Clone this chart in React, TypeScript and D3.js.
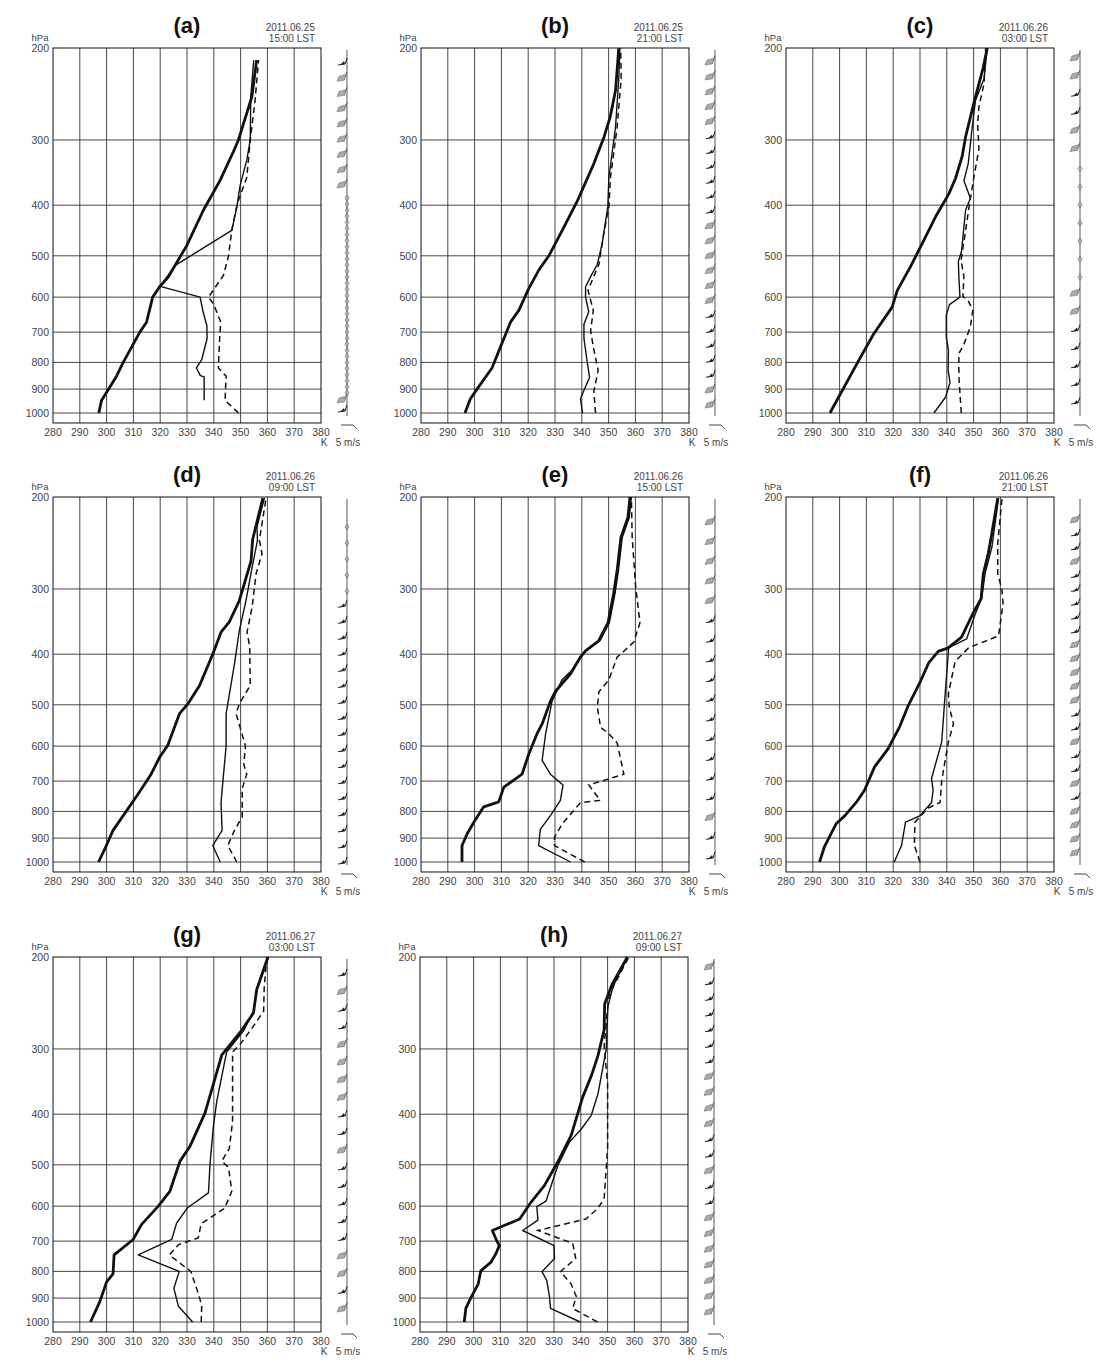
import React from "react";
import * as d3 from "d3";

type Pt = [number, number];

// ---- data: [K, hPa] ----
const A_theta: Pt[] = [[297.1,1000],[298.1,946],[303.7,850],[306.2,800],[312.4,700],[314.9,670],[317.2,600],[319.9,572],[323,549],[329.9,478],[336.1,409],[342.3,359],[347.3,316],[349.2,300],[354.2,248],[356,211]];
const A_thetaE: Pt[] = [[336.4,945],[336.4,853],[335,848],[333.5,820],[335.5,790],[337.5,720],[337.4,680],[336,640],[334.9,600],[320,572],[325.5,522],[346.7,447],[348.6,403],[349.8,367],[352.3,328],[353.6,300],[353.8,248],[354.9,211]];
const A_thetaES: Pt[] = [[349.2,1000],[344.2,946],[344.6,850],[341.7,820],[342.3,700],[342.6,670],[339.9,618],[338,600],[343.6,545],[345.5,500],[346.7,447],[348.8,397],[352.3,354],[353.6,300],[355.4,252],[356.7,211]];

const B_theta: Pt[] = [[296.4,1000],[298.4,940],[300.9,900],[306.5,820],[309.6,748],[313.4,670],[316.5,636],[320.2,578],[324,532],[327.7,500],[332.7,447],[338.3,393],[344.5,333],[348.3,296],[350.6,271],[352.6,241],[353.8,200]];
const B_thetaE: Pt[] = [[340.3,1000],[339.5,940],[340.8,905],[342.9,855],[342,797],[340.8,720],[340.8,676],[342.6,640],[341.4,600],[341.4,573],[343.3,548],[345.8,519],[347.6,474],[349.7,403],[350.1,354],[352.6,283],[353.8,229],[354.2,200]];
const B_thetaES: Pt[] = [[345.1,1000],[344.5,908],[346.1,829],[344.3,748],[343.3,695],[344.3,636],[342.3,582],[346.4,519],[348.2,453],[350.1,403],[350.7,354],[353.2,283],[354.7,229],[354.5,200]];

const C_theta: Pt[] = [[296.4,1000],[307.1,794],[312.7,706],[319.6,627],[321.5,583],[326.4,525],[330.8,474],[335.8,421],[340.7,381],[343.2,356],[345.7,323],[347,296],[350.1,255],[350.7,248],[353.5,219],[355.1,200]];
const C_thetaE: Pt[] = [[335.2,1000],[339.5,933],[341.2,875],[340.5,829],[340.6,758],[339.8,715],[339.8,650],[341,620],[344.9,600],[344.5,548],[344.3,513],[345.5,490],[347,409],[348.8,388],[346.4,359],[348,333],[349.5,283],[350.7,252],[353.9,229],[355.1,200]];
const C_thetaES: Pt[] = [[345.4,1000],[344.5,852],[344.5,770],[346.4,738],[348.8,684],[349.7,635],[348,610],[346,598],[346.4,548],[345.3,510],[347,448],[348.3,403],[350.1,354],[352,312],[351.5,280],[352,259],[353.9,234],[354.5,200]];

const D_theta: Pt[] = [[297,1000],[299.9,930],[302.4,870],[307.3,800],[311.7,742],[316.6,679],[319.8,630],[322.8,598],[327.2,520],[330.3,498],[334.7,459],[339.6,400],[342.7,363],[345.8,347],[349.5,316],[353.9,265],[354.5,241],[358.3,201]];
const D_thetaE: Pt[] = [[342.4,1000],[339.6,930],[343.1,870],[342.7,770],[343.4,700],[344.6,600],[344.6,520],[347.7,418],[349.5,361],[352,316],[354.1,276],[356.3,242],[356.1,228],[358.9,201]];
const D_thetaES: Pt[] = [[348.6,1000],[345.2,930],[347.7,870],[350.6,820],[350.6,723],[352.3,679],[351.2,651],[351.8,599],[348.3,520],[349.5,498],[353.6,459],[353.4,387],[352.4,363],[354.3,325],[355.8,280],[358,257],[357,242],[359.5,201]];

const E_theta: Pt[] = [[295.3,1000],[295.3,930],[297.2,884],[299.7,839],[303.4,784],[309,767],[310.9,719],[317.7,679],[320.2,622],[323.3,568],[325.2,544],[328.3,492],[330.2,471],[335.8,436],[339.5,405],[341.4,394],[346.3,377],[349.8,348],[351.9,306],[353.2,276],[354.6,239],[357.2,219],[358,200]];
const E_thetaE: Pt[] = [[335.8,1000],[323.9,930],[324.5,866],[328.3,815],[332,762],[333,712],[328.3,679],[325.2,639],[326.5,568],[328.9,492],[332.7,447],[336.2,430],[339.5,405],[341.4,394],[346.8,377],[350.3,348],[352.4,306],[353.7,276],[355.1,239],[357.7,219],[358.5,200]];
const E_thetaES: Pt[] = [[341.1,1000],[329.8,930],[329.8,897],[332.7,845],[339.5,770],[346.9,762],[342.6,712],[355.7,679],[353.2,592],[350.1,568],[347,552],[345.8,505],[346.4,472],[350.1,448],[353.2,405],[354.5,400],[359.4,379],[361.7,348],[360.1,297],[358.8,239],[358.5,200]];

const F_theta: Pt[] = [[292.5,1000],[294.4,933],[298.7,845],[301.9,816],[306.2,769],[309.3,729],[313,658],[318,608],[322.4,551],[325.5,503],[329.9,454],[333.3,415],[336.8,395],[340.5,389],[345.5,371],[349.9,333],[352.8,313],[353.6,281],[355.5,256],[356.8,235],[359,201]];
const F_thetaE: Pt[] = [[320.4,1000],[323.1,930],[324.6,839],[329.9,816],[334.3,769],[334.9,729],[334.3,692],[338.1,589],[339.4,476],[340.6,395],[340.6,389],[347.4,374],[350.5,336],[353,313],[354.3,280],[356.8,250],[359.3,201]];
const F_thetaES: Pt[] = [[330,1000],[327.9,930],[328.1,839],[333.1,788],[337.5,769],[338.1,699],[339.4,638],[340.6,589],[342.5,543],[340.9,505],[340.6,476],[343.1,413],[348.1,389],[359.3,369],[361,320],[360.5,300],[359,280],[359,246],[360.6,201]];

const G_theta: Pt[] = [[294,1000],[297.5,913],[300,838],[302.4,809],[302.8,744],[309.9,695],[313,651],[319.3,600],[323.6,562],[327.4,492],[331.1,461],[336.7,398],[343,308],[349.8,279],[354.8,256],[356,231],[360.2,200]];
const G_thetaE: Pt[] = [[332.1,1000],[326.8,933],[325.1,862],[327.1,800],[311.8,744],[324.3,695],[326.1,647],[330.1,605],[338,566],[338.6,497],[339.8,424],[341.1,378],[344.8,304],[351.1,277],[354.8,254],[356.3,229],[360.4,200]];
const G_thetaES: Pt[] = [[335.3,1000],[335.5,930],[333.9,872],[331.4,800],[323.4,744],[326.8,711],[334.2,690],[335.3,648],[344,606],[346.7,562],[345.5,506],[343,492],[345.8,465],[347,413],[347,304],[349.8,294],[354.2,274],[358.6,254],[358.8,229],[359.8,200]];

const H_theta: Pt[] = [[296.5,1000],[297.1,942],[299,898],[301.7,846],[302.7,798],[306.4,769],[308.3,740],[309.6,714],[308.3,693],[307,668],[317.2,635],[321.4,590],[326.4,548],[331.4,494],[336.4,439],[340.7,371],[344,337],[346.4,309],[348.7,276],[348.9,246],[351.6,226],[357.4,200]];
const H_thetaE: Pt[] = [[339.8,1000],[328.7,942],[328.3,893],[327.3,832],[325.5,801],[330.2,756],[330,714],[318.3,668],[324,638],[323.6,601],[327,587],[331.4,502],[335.8,452],[340.2,427],[343.9,402],[346.4,366],[349.5,300],[350.1,249],[352,228],[357.4,200]];
const H_thetaES: Pt[] = [[346.2,1000],[337,942],[338.3,893],[336.4,846],[332.4,801],[338.1,756],[337,707],[324,668],[341.9,635],[346.2,607],[348.7,581],[350,466],[350,349],[348.7,296],[350,251],[350.6,237],[352.5,226],[357.7,201]];

// wind barb symbols, top to bottom (f = flag, h = hook, d = weak/calm)
const A_wind = ["hffffffff", "ddddddddddddddddddddddddddddddddd", "fh"];
const B_wind = ["fffffhhhhhhffffffhhhhhff"];
const C_wind = ["ffhhffdddddddffhhhhh"];
const D_wind = ["dddddhhhhhhhhhhhhhhhhh"];
const E_wind = ["fffffhhhhhhhhhhfhh"];
const F_wind = ["fhhfhhhhhfffffhhfhhfhffff"];
const G_wind = ["hfhhffffhhfhhhhhffhf"];
const H_wind = ["fhhhhhhffffhhfhhfffffff"];

const panelLabels = ["(a)", "(b)", "(c)", "(d)", "(e)", "(f)", "(g)", "(h)"];
const panelDates = ["2011.06.25", "2011.06.25", "2011.06.26", "2011.06.26", "2011.06.26", "2011.06.26", "2011.06.27", "2011.06.27"];
const panelTimes = ["15:00 LST", "21:00 LST", "03:00 LST", "09:00 LST", "15:00 LST", "21:00 LST", "03:00 LST", "09:00 LST"];

const kTicks = [280, 290, 300, 310, 320, 330, 340, 350, 360, 370, 380];
const pTicks = [200, 300, 400, 500, 600, 700, 800, 900, 1000];

const series = [
  [A_theta, A_thetaE, A_thetaES],
  [B_theta, B_thetaE, B_thetaES],
  [C_theta, C_thetaE, C_thetaES],
  [D_theta, D_thetaE, D_thetaES],
  [E_theta, E_thetaE, E_thetaES],
  [F_theta, F_thetaE, F_thetaES],
  [G_theta, G_thetaE, G_thetaES],
  [H_theta, H_thetaE, H_thetaES],
];
const winds = [A_wind, B_wind, C_wind, D_wind, E_wind, F_wind, G_wind, H_wind];
// segments (pixel offsets from top) in which the barbs of each group are spread
const windSegs: [number, number][][] = [
  [[17, 139], [150, 345], [354, 364]],
  [[16, 359]],
  [[12, 356]],
  [[30, 367]],
  [[27, 362]],
  [[25, 358]],
  [[19, 354]],
  [[12, 357]],
];

const origins: [number, number][] = [
  [53, 48], [421, 48], [786, 48],
  [53, 497], [421, 497], [786, 497],
  [53, 957], [420, 957],
];

const W = 268;
const H1000 = 365;
const FONT = "'Liberation Sans', Arial, sans-serif";

function Barb({ x, y, c }: { x: number; y: number; c: string }) {
  if (c === "d") {
    return <polygon points={`${x},${y - 3} ${x + 2},${y} ${x},${y + 3} ${x - 2},${y}`} fill="none" stroke="#777" strokeWidth={0.8} />;
  }
  if (c === "h") {
    return (
      <g>
        <path d={`M${x},${y - 7} L${x - 2},${y - 1} L${x - 9},${y}`} fill="none" stroke="#222" strokeWidth={1} />
        <polygon points={`${x - 2},${y - 1} ${x - 7},${y} ${x - 3},${y - 4}`} fill="#222" />
      </g>
    );
  }
  return (
    <g>
      <path d={`M${x},${y - 8} L${x - 3},${y}`} fill="none" stroke="#555" strokeWidth={0.9} />
      <polygon points={`${x - 1},${y - 6} ${x - 3},${y} ${x - 10},${y + 1} ${x - 8},${y - 4}`} fill="#aaa" stroke="#777" strokeWidth={0.6} />
    </g>
  );
}

function Panel({ idx }: { idx: number }) {
  const [left, top] = origins[idx];
  const x = d3.scaleLinear().domain([280, 380]).range([left, left + W]);
  const y = d3.scaleLog().domain([200, 1000]).range([top, top + H1000]);
  const bottom = y(1045);
  const right = left + W;
  const line = d3.line<Pt>().x((d) => x(d[0])).y((d) => y(d[1]));
  const [th, te, tes] = series[idx];
  const sx = right + 26;

  const barbs: { yy: number; c: string }[] = [];
  winds[idx].forEach((codes, si) => {
    const [a, b] = windSegs[idx][si];
    const n = codes.length;
    for (let i = 0; i < n; i++) {
      const yy = n === 1 ? top + a : top + a + ((b - a) * i) / (n - 1);
      barbs.push({ yy, c: codes[i] });
    }
  });

  return (
    <g>
      {/* grid */}
      {kTicks.slice(1, -1).map((k) => (
        <line key={"v" + k} x1={x(k)} x2={x(k)} y1={top} y2={bottom} stroke="#333" strokeWidth={0.9} />
      ))}
      {pTicks.slice(1).map((p) => (
        <line key={"h" + p} x1={left} x2={right} y1={y(p)} y2={y(p)} stroke="#333" strokeWidth={0.9} />
      ))}
      <rect x={left} y={top} width={W} height={bottom - top} fill="none" stroke="#111" strokeWidth={1} />

      {/* profiles */}
      <path d={line(tes) || ""} fill="none" stroke="#111" strokeWidth={1.5} strokeDasharray="6,4" />
      <path d={line(te) || ""} fill="none" stroke="#111" strokeWidth={1.4} strokeLinejoin="round" />
      <path d={line(th) || ""} fill="none" stroke="#111" strokeWidth={2.8} strokeLinejoin="round" />

      {/* tick labels */}
      {pTicks.map((p) => (
        <text key={"pl" + p} x={left - 4} y={y(p) + 4} textAnchor="end" fontSize={10.5} fill="#444" fontFamily={FONT}>
          {p}
        </text>
      ))}
      {kTicks.map((k) => (
        <text key={"kl" + k} x={x(k)} y={top + 388} textAnchor="middle" fontSize={10.5} fill="#444" fontFamily={FONT}>
          {k}
        </text>
      ))}
      <text x={left - 13} y={top - 7.5} textAnchor="middle" fontSize={9.5} fill="#444" fontFamily={FONT}>hPa</text>
      <text x={right + 3} y={top + 398} textAnchor="middle" fontSize={10} fill="#444" fontFamily={FONT}>K</text>

      {/* titles */}
      <text x={left + 134} y={top - 15} textAnchor="middle" fontSize={22} fontWeight="bold" fill="#111" fontFamily={FONT}>
        {panelLabels[idx]}
      </text>
      <text x={left + 262} y={top - 17} textAnchor="end" fontSize={10} fill="#444" fontFamily={FONT}>{panelDates[idx]}</text>
      <text x={left + 262} y={top - 6} textAnchor="end" fontSize={10} fill="#444" fontFamily={FONT}>{panelTimes[idx]}</text>

      {/* wind barbs */}
      <line x1={sx} x2={sx} y1={top + 2} y2={top + 368} stroke="#666" strokeWidth={1.1} />
      {barbs.map((b, i) => (
        <Barb key={i} x={sx} y={b.yy} c={b.c} />
      ))}
      <path d={`M${right + 20},${top + 377} L${right + 32},${top + 377} L${right + 36},${top + 381}`} fill="none" stroke="#444" strokeWidth={1} />
      <text x={right + 27} y={top + 398} textAnchor="middle" fontSize={10} fill="#444" fontFamily={FONT}>5 m/s</text>
    </g>
  );
}

export default function App() {
  return (
    <svg width={1105} height={1365} style={{ position: "absolute", left: 0, top: 0, background: "#fff" }}>
      <rect x={0} y={0} width={1105} height={1365} fill="#fff" />
      {panelLabels.map((_, i) => (
        <Panel key={i} idx={i} />
      ))}
    </svg>
  );
}
